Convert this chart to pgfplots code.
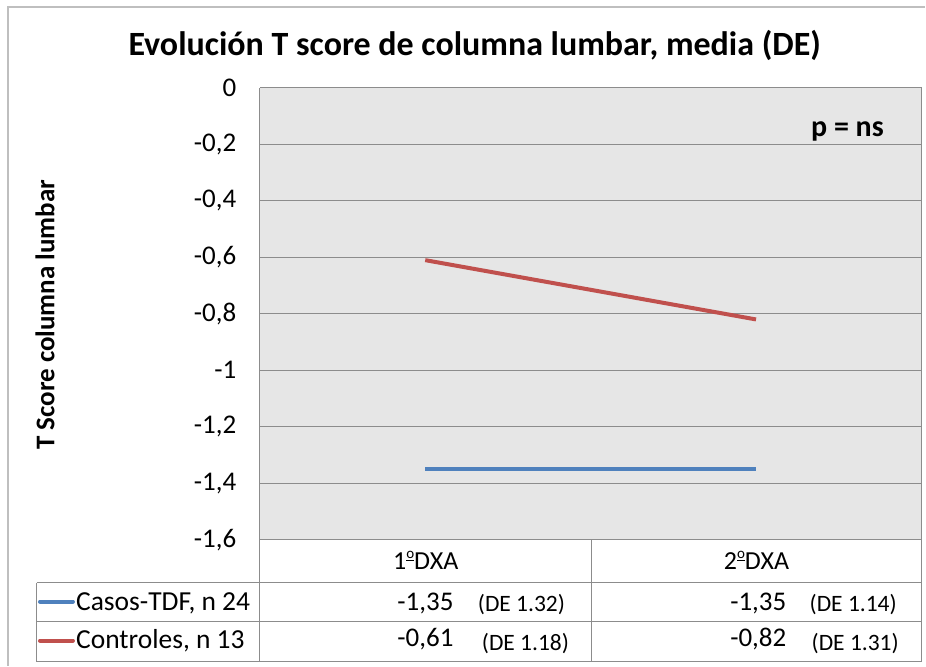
\documentclass[border=0pt]{standalone}
\usepackage{pgfplots}
\pgfplotsset{compat=1.18}
\usepackage{fontspec}
\setmainfont{Carlito}
\definecolor{cblue}{HTML}{4F81BD}
\definecolor{cred}{HTML}{C0504D}
\definecolor{plotbg}{HTML}{E6E6E6}
\definecolor{gridc}{HTML}{8C8C8C}
\definecolor{borderc}{HTML}{BFBFBF}
\newcommand\ordo{\raisebox{0.42em}{\fontsize{15}{15}\selectfont\underline{o}}}
\newcommand\Tk[1]{\fontsize{27}{31}\selectfont #1\hspace*{20pt}}
\begin{document}
\begin{tikzpicture}[x=1pt,y=1pt]
\path (0,0) rectangle (926,666);
% outer border
\draw[borderc,line width=1.2pt] (8,0) -- (8,659) -- (926,659);
\begin{axis}[
  at={(260pt,126pt)}, anchor=south west,
  scale only axis, width=662pt, height=452pt,
  xmin=-0.5, xmax=1.5, ymin=-1.6, ymax=0,
  axis x line*=bottom, axis y line*=left,
  xtick=\empty,
  ytick={-1.6,-1.4,-1.2,-1,-0.8,-0.6,-0.4,-0.2,0},
  yticklabels={{\Tk{-1,6}},{\Tk{-1,4}},{\Tk{-1,2}},{\Tk{-1}},{\Tk{-0,8}},{\Tk{-0,6}},{\Tk{-0,4}},{\Tk{-0,2}},{\Tk{0}}},
  major tick length=0pt,
  ymajorgrids, grid style={gridc, line width=1pt},
  axis background/.style={fill=plotbg},
  axis line style={gridc, line width=1pt},
  clip=false,
]
\addplot[cblue, line width=4pt] coordinates {(0,-1.35) (1,-1.35)};
\addplot[cred, line width=4pt] coordinates {(0,-0.61) (1,-0.82)};
\draw[gridc, line width=1pt] (rel axis cs:1,0) -- (rel axis cs:1,1) -- (rel axis cs:0,1);
\end{axis}
% title
\node[font=\fontsize{34}{40}\selectfont\bfseries] at (475,621) {Evolución T score de columna lumbar, media (DE)};
% y label
\node[font=\fontsize{27}{31}\selectfont\bfseries, rotate=90] at (45,351) {T Score columna lumbar};
% p = ns
\node[font=\fontsize{30}{34}\selectfont\bfseries, anchor=base] at (848,529) {p = ns};
% data table
\begin{scope}[gridc, line width=1pt]
\draw (260,126) -- (260,4);
\draw (592,126) -- (592,4);
\draw (922,126) -- (922,4);
\draw (37,83) -- (922,83);
\draw (37,44) -- (922,44);
\draw (37,4) -- (922,4);
\draw (37,83) -- (37,4);
\end{scope}
\node[font=\fontsize{26}{30}\selectfont] at (426,105) {1\ordo DXA};
\node[font=\fontsize{26}{30}\selectfont] at (757,105) {2\ordo DXA};
\draw[cblue, line width=4pt, line cap=round] (40,64) -- (73,64);
\draw[cred, line width=4pt, line cap=round] (40,25) -- (73,25);
\node[font=\fontsize{27.5}{31}\selectfont, anchor=base west, inner sep=0pt] at (76,55) {Casos-TDF, n 24};
\node[font=\fontsize{27.5}{31}\selectfont, anchor=base west, inner sep=0pt] at (76,17) {Controles, n 13};
\node[font=\fontsize{27}{31}\selectfont, anchor=base east, inner sep=0pt] at (454,55) {-1,35};
\node[font=\fontsize{23.5}{27}\selectfont, anchor=base west, inner sep=0pt] at (478,54) {(DE 1.32)};
\node[font=\fontsize{27}{31}\selectfont, anchor=base east, inner sep=0pt] at (787,55) {-1,35};
\node[font=\fontsize{23.5}{27}\selectfont, anchor=base west, inner sep=0pt] at (810,54) {(DE 1.14)};
\node[font=\fontsize{27}{31}\selectfont, anchor=base east, inner sep=0pt] at (454,19) {-0,61};
\node[font=\fontsize{23.5}{27}\selectfont, anchor=base west, inner sep=0pt] at (482,15) {(DE 1.18)};
\node[font=\fontsize{27}{31}\selectfont, anchor=base east, inner sep=0pt] at (787,19) {-0,82};
\node[font=\fontsize{23.5}{27}\selectfont, anchor=base west, inner sep=0pt] at (812,15) {(DE 1.31)};
\end{tikzpicture}
\end{document}
